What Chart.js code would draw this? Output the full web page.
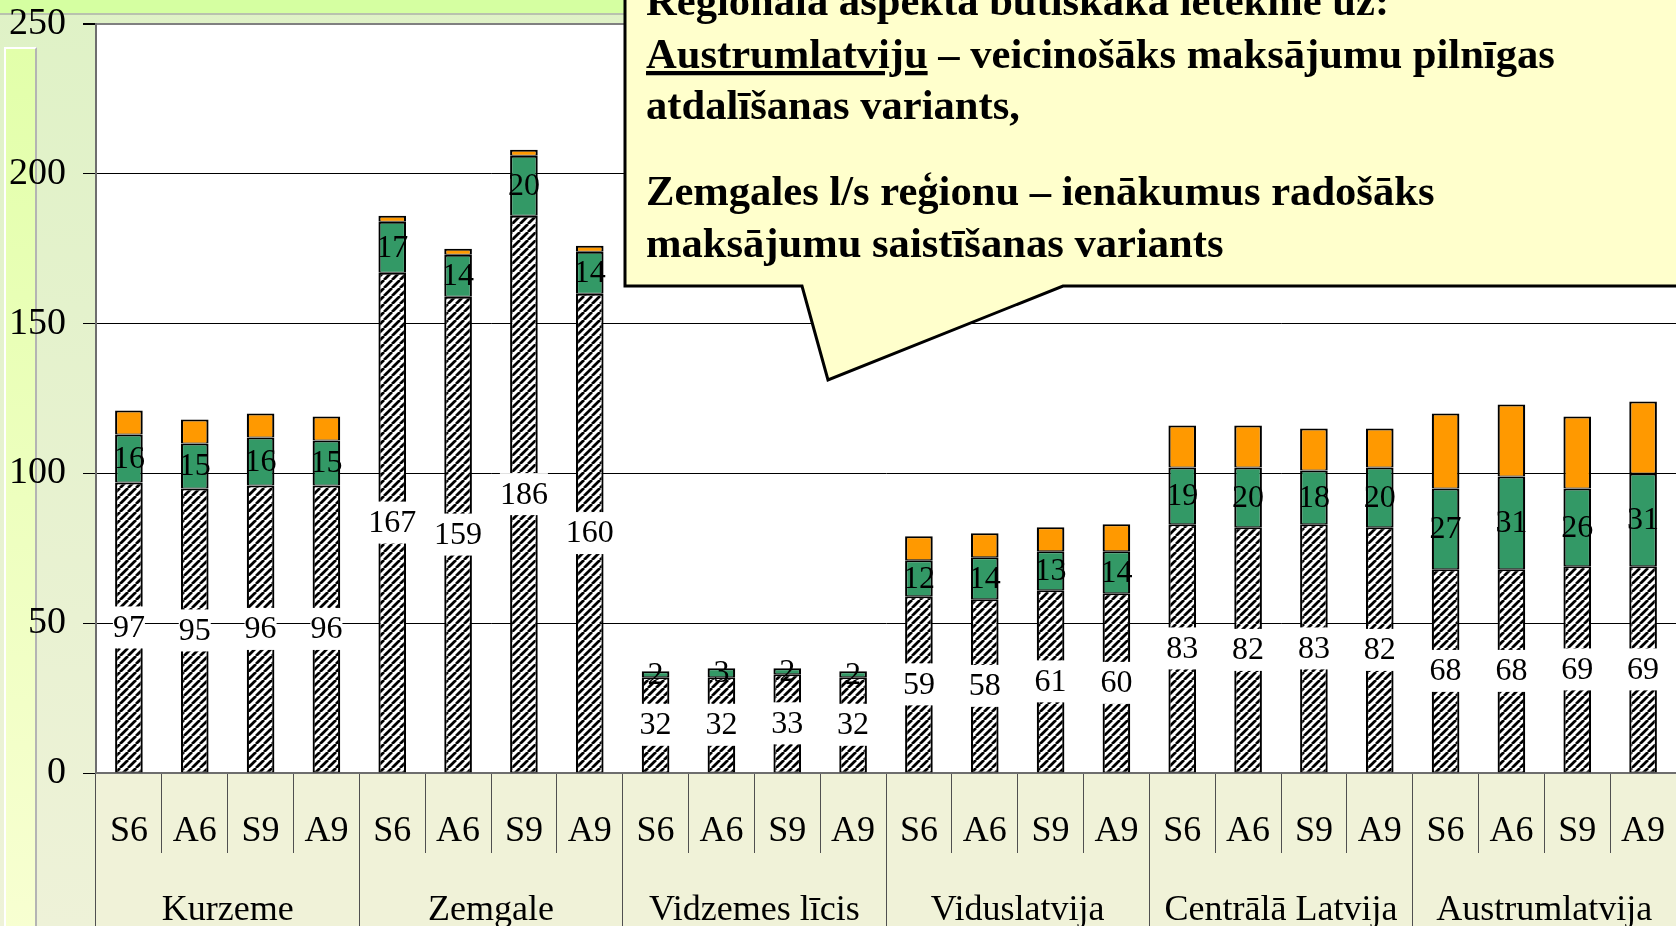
<!DOCTYPE html>
<html>
<head>
<meta charset="utf-8">
<script src="https://cdn.jsdelivr.net/npm/chart.js@4.4.0/dist/chart.umd.min.js"></script>
<style>
  html, body { margin: 0; padding: 0; }
  body {
    width: 1676px; height: 926px; position: relative; overflow: hidden;
    background: linear-gradient(#dff2c6, #eef2d8);
  }
  #band {
    position: absolute; left: 0; top: 0; width: 1676px; height: 13px;
    background: #d5ffa1; border-bottom: 2px solid #b9c2ae;
  }
  #strip {
    position: absolute; left: 4px; top: 47px; width: 29px; height: 900px;
    border-left: 2px solid #fff; border-top: 2px solid #fff; border-right: 2px solid #b4b4b4;
    background: linear-gradient(#e2ffaa, #f8ffd2);
  }
  #c { position: absolute; left: 0; top: 0; }
  #note { position: absolute; left: 0; top: 0; z-index: 2; }
</style>
</head>
<body>
<div id="band"></div>
<div id="strip"></div>
<canvas id="c" width="1676" height="926"></canvas>

<svg id="note" width="1676" height="926" viewBox="0 0 1676 926">
  <path d="M625,-10 L625,286 L802,286 L828,380 L1063,286 L1690,286 L1690,-10 Z"
        fill="#ffffcc" stroke="#000" stroke-width="3"/>
  <g font-family="'Liberation Serif','Times New Roman',serif" font-weight="bold" font-size="42.6" fill="#000">
    <text x="646" y="15">Reģionālā aspektā būtiskākā ietekme uz:</text>
    <text x="646" y="68"><tspan text-decoration="underline">Austrumlatviju</tspan> – veicinošāks maksājumu pilnīgas</text>
    <text x="646" y="119">atdalīšanas variants,</text>
    <text x="646" y="205">Zemgales l/s reģionu – ienākumus radošāks</text>
    <text x="646" y="257">maksājumu saistīšanas variants</text>
  </g>
</svg>

<script>
const regions = ['Kurzeme', 'Zemgale', 'Vidzemes līcis', 'Viduslatvija', 'Centrālā Latvija', 'Austrumlatvija'];
const periods = ['S6', 'A6', 'S9', 'A9'];

// hatched part (labelled on white boxes)
const hatchedValues = [97, 95, 96, 96, 167, 159, 186, 160, 32, 32, 33, 32, 59, 58, 61, 60, 83, 82, 83, 82, 68, 68, 69, 69];
// green part
const greenValues = [16, 15, 16, 15, 17, 14, 20, 14, 2, 3, 2, 2, 12, 14, 13, 14, 19, 20, 18, 20, 27, 31, 26, 31];
// orange part (no labels)
const orangeValues = [8, 8, 8, 8, 2, 2, 2, 2, 0, 0, 0, 0, 8, 8, 8, 9, 14, 14, 14, 13, 25, 24, 24, 24];

const yTicks = [0, 50, 100, 150, 200, 250];

const serif = "'Liberation Serif', 'Times New Roman', serif";

const labels = [];
regions.forEach(() => periods.forEach(p => labels.push(p)));

const canvas = document.getElementById('c');
const ctx = canvas.getContext('2d');

function makeHatch() {
  const s = 8;
  const tile = document.createElement('canvas');
  tile.width = s;
  tile.height = s;
  const g = tile.getContext('2d');
  g.fillStyle = '#fff';
  g.fillRect(0, 0, s, s);
  g.strokeStyle = '#000';
  g.lineWidth = 2.8;
  g.beginPath();
  for (let k = -1; k <= 1; k++) {
    g.moveTo(k * s, s);
    g.lineTo(k * s + s, 0);
  }
  g.stroke();
  return ctx.createPattern(tile, 'repeat');
}

// white plot area + pale band under the axis
const areaFill = {
  id: 'areaFill',
  beforeDraw(chart) {
    const a = chart.chartArea;
    const c = chart.ctx;
    c.save();
    c.fillStyle = '#fff';
    c.fillRect(a.left, a.top, a.right - a.left, a.bottom - a.top);
    c.fillStyle = '#f0f2d8';
    c.fillRect(a.left, a.bottom, a.right - a.left, chart.height - a.bottom);
    c.restore();
  }
};

// value labels: white boxes on the hatched part, plain text on the green part
const barLabels = {
  id: 'barLabels',
  afterDatasetsDraw(chart) {
    const c = chart.ctx;
    c.save();
    c.font = '32px ' + serif;
    c.textAlign = 'center';
    c.textBaseline = 'middle';
    [0, 1].forEach(di => {
      const meta = chart.getDatasetMeta(di);
      meta.data.forEach((bar, i) => {
        const txt = String(chart.data.datasets[di].data[i]);
        const cy = (bar.y + bar.base) / 2;
        if (di === 0) {
          const w = c.measureText(txt).width;
          c.fillStyle = '#fff';
          c.fillRect(bar.x - w / 2, cy - 21, w, 42);
        }
        c.fillStyle = '#000';
        c.fillText(txt, bar.x, cy + 1);
      });
    });
    c.restore();
  }
};

const barBorder = { top: 2, bottom: 1, left: 2.2, right: 2.2 };

new Chart(canvas, {
  type: 'bar',
  data: {
    labels: labels,
    datasets: [
      {
        data: hatchedValues,
        backgroundColor: makeHatch(),
        borderColor: '#000',
        borderWidth: barBorder,
        borderSkipped: false
      },
      {
        data: greenValues,
        backgroundColor: '#339966',
        borderColor: '#000',
        borderWidth: barBorder,
        borderSkipped: false
      },
      {
        data: orangeValues,
        backgroundColor: '#ff9900',
        borderColor: '#000',
        borderWidth: barBorder,
        borderSkipped: false
      }
    ]
  },
  options: {
    responsive: false,
    maintainAspectRatio: false,
    animation: false,
    barPercentage: 0.42,
    categoryPercentage: 1,
    layout: { padding: { top: 24, left: 0, right: 0, bottom: 0 } },
    plugins: {
      legend: { display: false },
      tooltip: { enabled: false }
    },
    scales: {
      x: {
        stacked: true,
        weight: 0,
        offset: true,
        grid: { offset: true, drawOnChartArea: false, tickLength: 80, color: '#505050', lineWidth: 1 },
        border: { color: '#6e6e6e', width: 2 },
        ticks: {
          color: '#000',
          font: { family: serif, size: 36 },
          padding: -43,
          maxRotation: 0,
          autoSkip: false
        },
        afterFit: s => { s.height = 80; }
      },
      xg: {
        type: 'category',
        labels: regions,
        position: 'bottom',
        weight: 1,
        offset: true,
        grid: { offset: true, drawOnChartArea: false, tickLength: 73, color: '#505050', lineWidth: 1 },
        border: { display: false },
        ticks: {
          color: '#000',
          font: { family: serif, size: 36 },
          padding: -37,
          maxRotation: 0,
          autoSkip: false
        },
        afterFit: s => { s.height = 73; }
      },
      y: {
        stacked: true,
        min: yTicks[0],
        max: yTicks[yTicks.length - 1],
        ticks: {
          stepSize: yTicks[1] - yTicks[0],
          color: '#000',
          font: { family: serif, size: 38 },
          padding: 17
        },
        grid: {
          color: c => (c.tick && c.tick.value === yTicks[yTicks.length - 1]) ? '#808080' : '#000',
          lineWidth: c => (c.tick && c.tick.value === yTicks[yTicks.length - 1]) ? 2 : 1,
          tickColor: '#000',
          tickLength: 13
        },
        border: { color: '#6e6e6e', width: 2 },
        afterFit: s => {
          s.width = 96;
          s.paddingTop = 0;
          s.paddingBottom = 0;
        }
      }
    }
  },
  plugins: [areaFill, barLabels]
});
</script>
</body>
</html>
